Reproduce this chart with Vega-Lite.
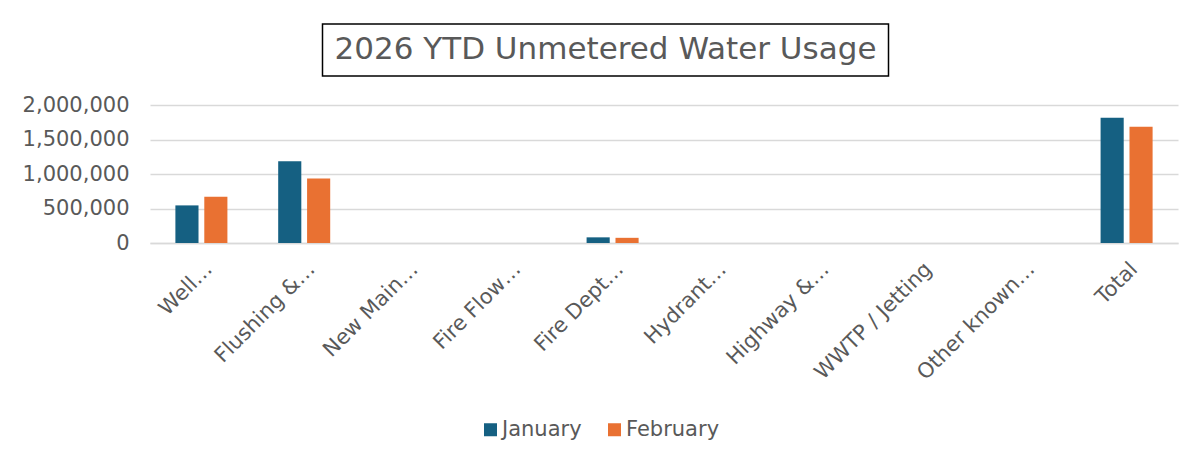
{
  "$schema": "https://vega.github.io/schema/vega-lite/v6.json",
  "background": "white",
  "padding": {"left": 22, "top": 23, "right": 10, "bottom": 5},
  "config": {
    "font": "DejaVu Sans",
    "concat": {"spacing": 17},
    "legend": {"layout": {"bottom": {"anchor": "middle"}}}
  },
  "center": true,
  "vconcat": [
    {
      "spacing": 20,
      "hconcat": [
        {
          "width": 566,
          "height": 52,
          "view": {"stroke": "#000000", "strokeWidth": 1.5},
          "data": {"values": [{"title": "2026 YTD Unmetered Water Usage"}]},
          "mark": {"type": "text", "fontSize": 31, "color": "#595959", "font": "DejaVu Sans", "baseline": "middle", "align": "center"},
          "encoding": {"text": {"field": "title", "type": "nominal"}}
        },
        {
          "width": 96,
          "height": 52,
          "view": {"stroke": null},
          "data": {"values": [{"title": ""}]},
          "mark": {"type": "text"},
          "encoding": {"text": {"field": "title", "type": "nominal"}}
        }
      ]
    },
    {
      "width": 1028,
      "height": 138,
      "view": {"stroke": null},
      "data": {
        "values": [
          {"category": "Well…", "month": "January", "value": 545000},
          {"category": "Well…", "month": "February", "value": 670000},
          {"category": "Flushing &…", "month": "January", "value": 1185000},
          {"category": "Flushing &…", "month": "February", "value": 935000},
          {"category": "New Main…", "month": "January", "value": 0},
          {"category": "New Main…", "month": "February", "value": 0},
          {"category": "Fire Flow…", "month": "January", "value": 0},
          {"category": "Fire Flow…", "month": "February", "value": 0},
          {"category": "Fire Dept…", "month": "January", "value": 82000},
          {"category": "Fire Dept…", "month": "February", "value": 75000},
          {"category": "Hydrant…", "month": "January", "value": 0},
          {"category": "Hydrant…", "month": "February", "value": 0},
          {"category": "Highway &…", "month": "January", "value": 0},
          {"category": "Highway &…", "month": "February", "value": 0},
          {"category": "WWTP / Jetting", "month": "January", "value": 0},
          {"category": "WWTP / Jetting", "month": "February", "value": 0},
          {"category": "Other known…", "month": "January", "value": 0},
          {"category": "Other known…", "month": "February", "value": 0},
          {"category": "Total", "month": "January", "value": 1815000},
          {"category": "Total", "month": "February", "value": 1685000}
        ]
      },
      "mark": {"type": "bar"},
      "encoding": {
        "x": {
          "field": "category",
          "type": "nominal",
          "sort": null,
          "scale": {"paddingInner": 0.494, "paddingOuter": 0.247},
          "axis": {
            "title": null,
            "labelAngle": -45,
            "labelFontSize": 21,
            "labelColor": "#595959",
            "ticks": false,
            "domainColor": "#d9d9d9",
            "domainWidth": 1.5,
            "labelPadding": 15,
            "labelLimit": 300
          }
        },
        "xOffset": {
          "field": "month",
          "type": "nominal",
          "sort": ["January", "February"],
          "scale": {"paddingInner": 0.2}
        },
        "y": {
          "field": "value",
          "type": "quantitative",
          "scale": {"domain": [0, 2000000]},
          "axis": {
            "title": null,
            "values": [0, 500000, 1000000, 1500000, 2000000],
            "format": ",d",
            "labelFontSize": 21,
            "labelColor": "#595959",
            "domain": false,
            "ticks": false,
            "gridColor": "#d9d9d9",
            "gridWidth": 1.5,
            "labelPadding": 21
          }
        },
        "color": {
          "field": "month",
          "type": "nominal",
          "sort": ["January", "February"],
          "scale": {"domain": ["January", "February"], "range": ["#156082", "#E97132"]},
          "legend": {
            "orient": "bottom",
            "direction": "horizontal",
            "title": null,
            "symbolType": "square",
            "symbolSize": 169,
            "symbolStrokeWidth": 0,
            "labelFontSize": 21,
            "labelColor": "#595959",
            "labelOffset": 1,
            "columnPadding": 22,
            "offset": 35
          }
        }
      }
    }
  ]
}
